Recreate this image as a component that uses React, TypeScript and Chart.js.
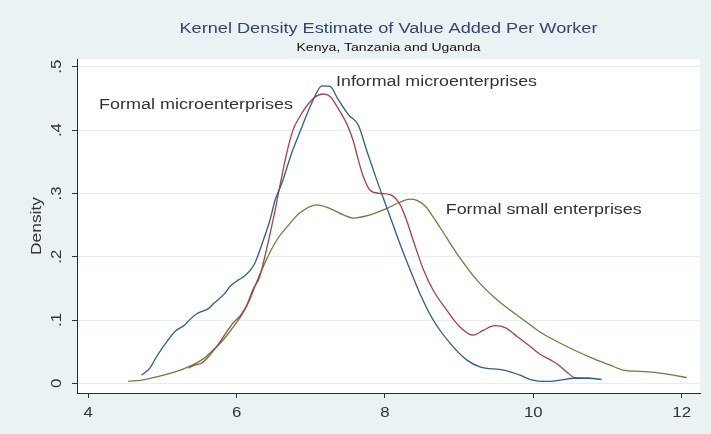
import React, { useEffect, useRef } from "react";
import { Chart, registerables } from "chart.js";

Chart.register(...registerables);

// ---- texts ----
const TITLE = "Kernel Density Estimate of Value Added Per Worker";
const SUBTITLE = "Kenya, Tanzania and Uganda";
const Y_AXIS_TITLE = "Density";
const SERIES_NAMES = ["Informal microenterprises", "Formal microenterprises", "Formal small enterprises"];

// ---- ticks ----
const X_TICKS = [4, 6, 8, 10, 12];
const X_TICK_LABELS = ["4", "6", "8", "10", "12"];
const Y_TICKS = [0, 0.1, 0.2, 0.3, 0.4, 0.5];
const Y_TICK_LABELS = ["0", ".1", ".2", ".3", ".4", ".5"];

// ---- series: Informal microenterprises ----
const informalX = [4.72, 4.83, 4.92, 5.06, 5.17, 5.3, 5.39, 5.48, 5.62, 5.69, 5.84, 5.91, 6.02, 6.09, 6.18, 6.25, 6.36, 6.45, 6.52, 6.61, 6.74, 6.88, 7.01, 7.15, 7.26, 7.37, 7.51, 7.64, 7.75, 7.89, 8.02, 8.11, 8.2, 8.34, 8.47, 8.65, 8.88, 9.1, 9.28, 9.6, 9.82, 9.96, 10.18, 10.36, 10.54, 10.76, 10.92];
const informalY = [0.013, 0.024, 0.042, 0.066, 0.082, 0.092, 0.103, 0.111, 0.118, 0.126, 0.142, 0.153, 0.163, 0.168, 0.178, 0.191, 0.226, 0.258, 0.29, 0.316, 0.363, 0.405, 0.442, 0.47, 0.469, 0.448, 0.424, 0.408, 0.369, 0.321, 0.279, 0.25, 0.221, 0.179, 0.142, 0.1, 0.063, 0.037, 0.026, 0.021, 0.013, 0.006, 0.003, 0.005, 0.008, 0.008, 0.006];

// ---- series: Formal microenterprises ----
const formalMicroX = [5.35, 5.44, 5.53, 5.64, 5.75, 5.87, 5.95, 6.05, 6.14, 6.22, 6.31, 6.38, 6.45, 6.52, 6.56, 6.67, 6.76, 6.85, 6.97, 7.08, 7.17, 7.26, 7.37, 7.48, 7.57, 7.64, 7.71, 7.8, 7.93, 8.07, 8.2, 8.29, 8.38, 8.52, 8.65, 8.83, 9.01, 9.19, 9.33, 9.48, 9.62, 9.78, 9.96, 10.09, 10.23, 10.34, 10.45, 10.56, 10.76];
const formalMicroY = [0.024, 0.029, 0.032, 0.045, 0.061, 0.082, 0.095, 0.107, 0.124, 0.148, 0.168, 0.2, 0.236, 0.274, 0.298, 0.361, 0.4, 0.421, 0.442, 0.454, 0.457, 0.453, 0.434, 0.411, 0.384, 0.353, 0.326, 0.305, 0.3, 0.298, 0.283, 0.258, 0.226, 0.179, 0.147, 0.116, 0.089, 0.076, 0.084, 0.091, 0.088, 0.074, 0.058, 0.046, 0.037, 0.029, 0.018, 0.009, 0.008];

// ---- series: Formal small enterprises ----
const formalSmallX = [4.54, 4.76, 4.99, 5.17, 5.35, 5.53, 5.66, 5.8, 5.93, 6.07, 6.17, 6.27, 6.4, 6.54, 6.7, 6.85, 7.08, 7.26, 7.44, 7.57, 7.8, 8.02, 8.2, 8.34, 8.43, 8.55, 8.66, 8.76, 8.97, 9.24, 9.51, 9.87, 10.09, 10.32, 10.54, 10.81, 11.03, 11.21, 11.44, 11.66, 11.89, 12.07];
const formalSmallY = [0.003, 0.006, 0.012, 0.018, 0.026, 0.037, 0.05, 0.066, 0.085, 0.108, 0.13, 0.16, 0.195, 0.226, 0.25, 0.269, 0.282, 0.276, 0.266, 0.261, 0.266, 0.276, 0.286, 0.291, 0.289, 0.279, 0.261, 0.243, 0.205, 0.163, 0.132, 0.1, 0.081, 0.066, 0.053, 0.039, 0.029, 0.021, 0.019, 0.017, 0.013, 0.009];

const FONT = '"Liberation Sans", Arial, Helvetica, sans-serif';

function drawText(
  ctx: CanvasRenderingContext2D,
  text: string,
  x: number,
  y: number,
  size: number,
  color: string,
  align: CanvasTextAlign,
  opts: { width?: number; stretch?: number; angle?: number } = {}
) {
  ctx.save();
  ctx.font = `${size}px ${FONT}`;
  const w = ctx.measureText(text).width;
  const sx = opts.width ? opts.width / w : opts.stretch || 1;
  ctx.translate(x, y);
  if (opts.angle) ctx.rotate(opts.angle);
  ctx.scale(sx, 1);
  ctx.fillStyle = color;
  ctx.textAlign = align;
  ctx.textBaseline = "alphabetic";
  ctx.fillText(text, 0, 0);
  ctx.restore();
}

const zip = (xs: number[], ys: number[]) => xs.map((x, i) => ({ x, y: ys[i] }));

export default function App() {
  const ref = useRef<HTMLCanvasElement | null>(null);

  useEffect(() => {
    document.body.style.margin = "0";
    const canvas = ref.current;
    if (!canvas) return;

    const plotBg = {
      id: "plotBg",
      beforeDraw(chart: any) {
        const { ctx, chartArea } = chart;
        ctx.save();
        ctx.fillStyle = "#ffffff";
        ctx.fillRect(chartArea.left, chartArea.top, chartArea.right - chartArea.left, chartArea.bottom - chartArea.top);
        ctx.restore();
      },
    };

    const texts = {
      id: "texts",
      afterDraw(chart: any) {
        const { ctx, chartArea } = chart;
        const xs = chart.scales.x;
        const ys = chart.scales.y;
        const cx = (chartArea.left + chartArea.right) / 2;
        drawText(ctx, TITLE, cx, 33, 14, "#34446c", "center", { width: 418 });
        drawText(ctx, SUBTITLE, cx, 51, 11, "#111111", "center", { width: 184 });
        // x tick labels
        X_TICKS.forEach((v, i) => {
          drawText(ctx, X_TICK_LABELS[i], xs.getPixelForValue(v), 417, 14, "#333333", "center", { stretch: 1.2 });
        });
        // y tick labels (rotated)
        Y_TICKS.forEach((v, i) => {
          drawText(ctx, Y_TICK_LABELS[i], 61, ys.getPixelForValue(v), 14, "#333333", "center", { stretch: 1.2, angle: -Math.PI / 2 });
        });
        drawText(ctx, Y_AXIS_TITLE, 41, (chartArea.top + chartArea.bottom) / 2, 14, "#333333", "center", { width: 58, angle: -Math.PI / 2 });
        // series labels
        drawText(ctx, SERIES_NAMES[0], xs.getPixelForValue(7.34), ys.getPixelForValue(0.469), 15.5, "#333333", "left", { width: 201 });
        drawText(ctx, SERIES_NAMES[1], xs.getPixelForValue(4.144), ys.getPixelForValue(0.433), 15.5, "#333333", "left", { width: 194 });
        drawText(ctx, SERIES_NAMES[2], xs.getPixelForValue(8.819), ys.getPixelForValue(0.267), 15.5, "#333333", "left", { width: 196 });
      },
    };

    const lineStyle = { borderWidth: 1.3, pointRadius: 0, fill: false, cubicInterpolationMode: "monotone" as const };

    const chart = new Chart(canvas, {
      type: "line",
      data: {
        datasets: [
          { label: SERIES_NAMES[0], data: zip(informalX, informalY), borderColor: "#2c5d8e", ...lineStyle },
          { label: SERIES_NAMES[1], data: zip(formalMicroX, formalMicroY), borderColor: "#a83f49", ...lineStyle },
          { label: SERIES_NAMES[2], data: zip(formalSmallX, formalSmallY), borderColor: "#62843a", ...lineStyle },
        ],
      },
      options: {
        animation: false,
        responsive: false,
        devicePixelRatio: 1,
        layout: { padding: { top: 59, right: 11, left: 0, bottom: 0 } },
        plugins: { legend: { display: false }, tooltip: { enabled: false }, title: { display: false } },
        scales: {
          x: {
            type: "linear",
            min: 3.848,
            max: 12.247,
            afterBuildTicks: (axis: any) => {
              axis.ticks = X_TICKS.map((v) => ({ value: v }));
            },
            afterFit: (scale: any) => {
              scale.height = 41;
            },
            ticks: { display: false },
            grid: { drawOnChartArea: false, drawTicks: true, tickLength: 5, tickColor: "#333333", tickWidth: 1 },
            border: { display: true, color: "#2a2a2a", width: 1 },
          },
          y: {
            type: "linear",
            min: -0.0153,
            max: 0.5123,
            afterBuildTicks: (axis: any) => {
              axis.ticks = Y_TICKS.map((v) => ({ value: v }));
            },
            afterFit: (scale: any) => {
              scale.width = 77;
            },
            ticks: { display: false },
            grid: { drawOnChartArea: true, color: "#e6eef0", lineWidth: 1, drawTicks: true, tickLength: 5, tickColor: "#333333", tickWidth: 1 },
            border: { display: true, color: "#2a2a2a", width: 1 },
          },
        },
      },
      plugins: [plotBg, texts],
    } as any);

    return () => chart.destroy();
  }, []);

  return (
    <div style={{ position: "fixed", left: 0, top: 0, width: 711, height: 434, background: "#eaf2f3" }}>
      <canvas ref={ref} width={711} height={434} style={{ display: "block", width: 711, height: 434 }} />
    </div>
  );
}
